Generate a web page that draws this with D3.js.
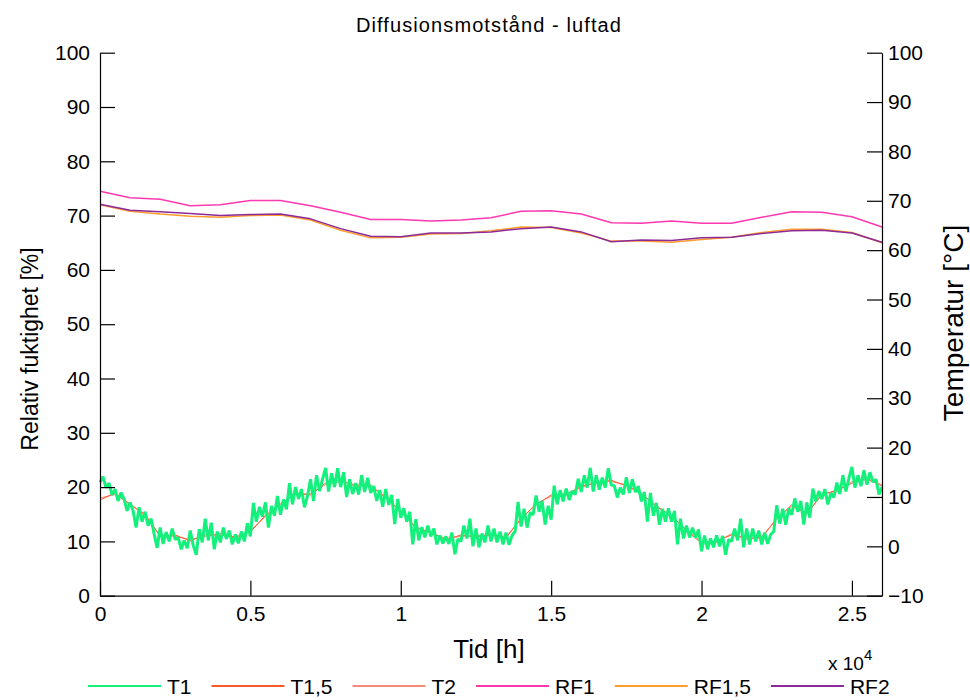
<!DOCTYPE html>
<html>
<head>
<meta charset="utf-8">
<script src="https://cdn.jsdelivr.net/npm/d3@7"></script>
<style>
  body { margin: 0; background: #fff; }
  svg text { font-family: "Liberation Sans", Arial, sans-serif; fill: #000; }
</style>
</head>
<body>
<svg id="chart" width="970" height="700"></svg>
<script>
// time sampling of the logged data [s]
const tStepT = 100;   // temperature logger
const tStepRF = 1000; // humidity logger

// RF series [%] (left axis), one value every 1000 s
const RF1 = [74.5, 73.3, 73.0, 71.8, 72.0, 72.8, 72.8, 71.8, 70.6, 69.3, 69.3, 69.0, 69.2, 69.6,
  70.8, 70.9, 70.3, 68.7, 68.6, 69.0, 68.6, 68.6, 69.7, 70.7, 70.6, 69.8, 67.9];
const RF1_5 = [72.0, 70.8, 70.3, 69.9, 69.7, 70.0, 70.1, 69.2, 67.3, 65.9, 66.0, 66.6, 66.7, 67.2,
  67.9, 67.8, 66.8, 65.3, 65.3, 65.1, 65.6, 66.0, 66.9, 67.5, 67.5, 66.9, 65.0];
const RF2 = [72.1, 71.0, 70.7, 70.4, 70.0, 70.2, 70.3, 69.4, 67.6, 66.2, 66.1, 66.8, 66.8, 67.0,
  67.6, 67.9, 67.0, 65.2, 65.5, 65.4, 65.9, 66.0, 66.7, 67.2, 67.3, 66.8, 65.1];

// T1 [°C] (right axis), one value every 100 s
const T1 = [13.0, 14.1, 11.9, 12.8, 10.4, 11.6, 9.2, 10.9, 9.6, 7.2,
  8.9, 7.2, 3.8, 7.9, 5.0, 7.0, 4.2, 5.6, 2.5, -0.3,
  3.8, 0.5, 2.9, 1.0, 3.6, 1.4, 1.8, -0.6, 1.2, -0.4,
  3.2, 0.2, -1.7, 3.5, 0.8, 5.6, 1.2, 4.8, -0.6, 3.0,
  0.8, 3.8, 1.5, 3.2, 0.4, 2.4, 0.6, 3.0, 1.0, 4.7,
  2.0, 8.8, 5.0, 8.0, 6.0, 8.9, 3.8, 8.2, 6.2, 10.2,
  6.4, 9.5, 7.5, 12.8, 8.5, 12.0, 9.6, 11.6, 7.9, 10.2,
  13.6, 9.2, 14.4, 11.2, 13.6, 15.9, 11.1, 14.8, 12.0, 15.8,
  12.0, 15.0, 10.0, 13.6, 10.6, 12.8, 10.5, 14.4, 11.0, 13.9,
  10.8, 12.2, 9.2, 11.4, 8.0, 11.6, 8.4, 10.4, 4.5, 9.6,
  5.8, 7.7, 5.0, 7.0, 0.4, 5.5, 1.2, 3.9, 1.8, 4.2,
  2.0, 3.6, 0.4, 2.2, 0.6, 2.0, 0.5, 2.8, -1.6, 1.5,
  1.0, 4.2, 1.6, 5.6, 0.0, 3.6, -0.2, 2.6, 0.8, 4.2,
  1.0, 3.6, 0.8, 3.0, 0.4, 2.8, 0.3, 2.2, 3.0, 9.0,
  4.0, 7.6, 3.8, 6.8, 6.4, 10.3, 7.0, 9.2, 4.4, 8.2,
  5.4, 12.3, 8.5, 11.4, 9.1, 11.7, 9.4, 11.2, 10.5, 13.7,
  11.0, 14.4, 11.9, 15.9, 11.1, 14.4, 11.5, 13.9, 11.9, 15.8,
  12.4, 12.3, 9.9, 11.9, 10.5, 14.0, 10.8, 13.6, 11.0, 12.2,
  9.1, 11.0, 5.0, 10.8, 6.2, 8.8, 4.4, 7.6, 5.0, 7.7,
  5.0, 7.2, 0.4, 5.6, 1.6, 4.2, 1.8, 3.8, 1.8, 3.4,
  -1.0, 2.2, -0.6, 1.6, -0.2, 2.2, 0.0, 2.1, -1.7, 1.4,
  1.0, 3.6, 1.2, 5.6, -0.2, 3.6, 0.4, 3.6, 1.0, 3.2,
  0.4, 2.8, 0.5, 2.4, 3.0, 8.3, 4.6, 7.6, 4.4, 7.7,
  6.4, 9.7, 7.0, 9.2, 4.4, 8.9, 5.8, 11.7, 9.1, 11.2,
  9.6, 11.6, 8.5, 10.8, 9.9, 12.9, 10.6, 14.4, 11.1, 13.8,
  16.1, 11.9, 14.4, 12.2, 15.4, 12.5, 15.0, 13.0, 13.6, 10.5,
  12.0];

// T1,5 and T2 [°C] (right axis), one value every 500 s
const tStepT2 = 500;
const T1_5 = [9.4, 10.8, 8.4, 6.5, 2.0, 2.3, 1.1, 2.3, 2.3, 1.9, 2.9, 6.3, 8.4, 10.8,
  10.4, 12.8, 13.4, 12.2, 12.4, 9.8, 7.2, 3.7, 2.9, 1.3, 2.3, 1.9, 2.5, 1.7,
  5.7, 8.4, 10.4, 10.4, 12.2, 12.8, 13.4, 12.2, 10.8, 8.0, 6.3, 3.1, 0.7, 1.1,
  2.3, 1.7, 1.7, 5.7, 8.2, 6.7, 10.4, 11.4, 12.8, 13.8, 12.2];
const T2 = [9.8, 10.5, 8.7, 6.2, 2.3, 2.0, 1.4, 2.0, 2.6, 1.6, 3.2, 6.0, 8.7, 10.5,
  10.7, 12.5, 13.1, 12.5, 12.1, 10.1, 6.9, 4.0, 2.6, 1.6, 2.0, 2.2, 2.2, 2.0,
  5.4, 8.7, 10.1, 10.7, 11.9, 13.1, 13.1, 12.5, 10.5, 8.3, 6.0, 3.4, 1.0, 0.8,
  2.6, 1.4, 2.0, 5.4, 8.5, 6.4, 10.7, 11.1, 13.1, 13.5, 12.5];

const xTicks = [0, 5000, 10000, 15000, 20000, 25000];
const xTickLabels = ["0", "0.5", "1", "1.5", "2", "2.5"];
const yTicksLeft = d3.range(0, 101, 10);
const yTicksRight = d3.range(-10, 101, 10);

const legendNames = ["T1", "T1,5", "T2", "RF1", "RF1,5", "RF2"];
const legendColors = ["#13f07c", "#fa5a2a", "#f88a7a", "#ff38b0", "#ff9d2c", "#8c2a9a"];

const svg = d3.select("#chart");

const margin = { left: 100, right: 882, top: 52.7, bottom: 595.7 };

const x = d3.scaleLinear().domain([0, 26000]).range([margin.left, margin.right]);
const yL = d3.scaleLinear().domain([0, 100]).range([margin.bottom, margin.top]);
const yR = d3.scaleLinear().domain([-10, 100]).range([margin.bottom, margin.top]);

const series = [
  { data: RF1, step: tStepRF, y: yL, color: legendColors[3], w: 1.5 },
  { data: RF1_5, step: tStepRF, y: yL, color: legendColors[4], w: 1.5 },
  { data: RF2, step: tStepRF, y: yL, color: legendColors[5], w: 1.5 },
  { data: T2, step: tStepT2, y: yR, color: legendColors[2], w: 1 },
  { data: T1_5, step: tStepT2, y: yR, color: legendColors[1], w: 1 },
  { data: T1, step: tStepT, y: yR, color: legendColors[0], w: 3 }
];

series.forEach(s => {
  const line = d3.line()
    .x((d, i) => x(i * s.step))
    .y(d => s.y(d));
  svg.append("path")
    .datum(s.data)
    .attr("fill", "none")
    .attr("stroke", s.color)
    .attr("stroke-width", s.w)
    .attr("stroke-linejoin", "bevel")
    .attr("d", line);
});

// axes (MATLAB style, ticks pointing inward)
const tickLen = 15;
const fontTick = 21;

const gLeft = svg.append("g").attr("transform", `translate(${margin.left},0)`)
  .call(d3.axisLeft(yL).tickValues(yTicksLeft).tickSize(-tickLen).tickPadding(tickLen + 10).tickSizeOuter(0));
const gRight = svg.append("g").attr("transform", `translate(${margin.right},0)`)
  .call(d3.axisRight(yR).tickValues(yTicksRight).tickSize(-tickLen).tickPadding(-tickLen + 5).tickSizeOuter(0));
const gBottom = svg.append("g").attr("transform", `translate(0,${margin.bottom})`)
  .call(d3.axisBottom(x).tickValues(xTicks).tickFormat((d, i) => xTickLabels[i])
    .tickSize(-tickLen).tickPadding(10).tickSizeOuter(0));

[gLeft, gRight, gBottom].forEach(g => {
  g.select(".domain").attr("stroke", "#000").attr("stroke-width", 1.2);
  g.selectAll(".tick line").attr("stroke", "#000").attr("stroke-width", 1.2);
  g.selectAll(".tick text").attr("font-size", fontTick)
    .attr("font-family", "Liberation Sans, Arial, sans-serif").attr("fill", "#000");
});
gRight.selectAll(".tick text").attr("x", 6).attr("text-anchor", "start");
gLeft.selectAll(".tick text").attr("x", -10);

// title and labels
svg.append("text")
  .attr("x", 489).attr("y", 32)
  .attr("text-anchor", "middle")
  .attr("font-size", 20)
  .attr("letter-spacing", 1.1)
  .attr("font-family", "DejaVu Sans, sans-serif")
  .text("Diffusionsmotstånd - luftad");

svg.append("text")
  .attr("x", 489).attr("y", 658)
  .attr("text-anchor", "middle")
  .attr("font-size", 26)
  .text("Tid [h]");

svg.append("text")
  .attr("transform", "translate(38,349) rotate(-90)")
  .attr("text-anchor", "middle")
  .attr("font-size", 23)
  .text("Relativ fuktighet [%]");

svg.append("text")
  .attr("transform", "translate(963,323) rotate(-90)")
  .attr("text-anchor", "middle")
  .attr("font-size", 28)
  .text("Temperatur [°C]");

const expo = svg.append("text")
  .attr("x", 828).attr("y", 670)
  .attr("font-size", 19);
expo.append("tspan").text("x 10");
expo.append("tspan").attr("dy", -10).attr("font-size", 15).text("4");

// legend
const legend = svg.append("g").attr("transform", "translate(88,686)");
let lx = 0;
legendNames.forEach((name, i) => {
  const item = legend.append("g").attr("transform", `translate(${lx},0)`);
  item.append("line")
    .attr("x1", 0).attr("x2", 73).attr("y1", 0).attr("y2", 0)
    .attr("stroke", legendColors[i]).attr("stroke-width", 2);
  const t = item.append("text")
    .attr("x", 79).attr("y", 8)
    .attr("font-size", 21)
    .text(name);
  lx += 79 + t.node().getComputedTextLength() + 20;
});
</script>
</body>
</html>
